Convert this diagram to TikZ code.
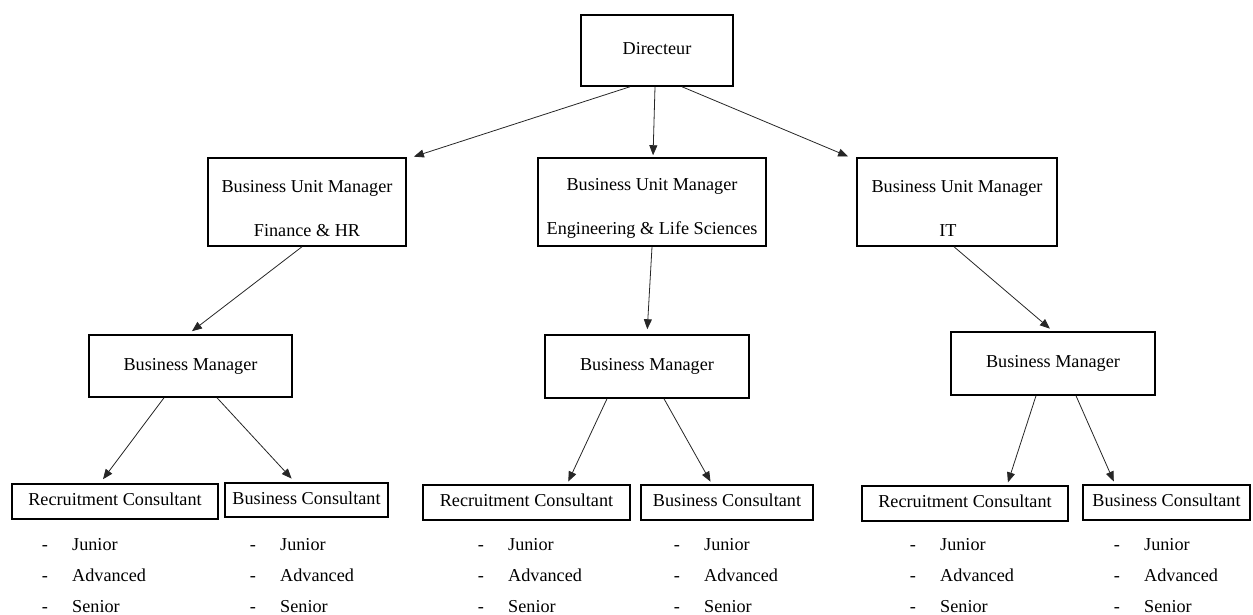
\documentclass[tikz,border=0pt]{standalone}
\usepackage{fontspec}
\setmainfont{Liberation Serif}
\usetikzlibrary{arrows.meta}
\tikzset{
    %Define standard arrow tip
    >={Triangle[length=10pt,width=8pt]},
    %Define style for boxes
    box/.style={
           rectangle,
           draw=black, line width=1.5pt,
           inner sep=0pt,
           font=\fontsize{18.2}{19}\selectfont,
           align=center},
    solo/.style={
           box,
           text height=12.5pt,
           text depth=4pt},
    % Define arrow style
    link/.style={
           ->,
           line width=0.8pt,
           draw=black!85,
           shorten >=2pt},
    % Define style for the grade lists
    hyph/.style={
           anchor=base,
           inner sep=0pt,
           font=\fontsize{18.2}{19}\selectfont},
    grade/.style={
           hyph,
           anchor=base west}
}
\newcommand{\unitmgr}[1]{\rule{0pt}{25pt}Business Unit Manager\\[25pt]#1}

\begin{document}
\begin{tikzpicture}[x=1pt,y=-1pt]
 \useasboundingbox (0,0) rectangle (1253,614);
 %nodes
    \node[solo, minimum width=152pt, minimum height=71pt] (dir) at (657,50.5) {Directeur};
    \node[box, minimum width=198pt, minimum height=88pt] (bumF) at (307,202) {\unitmgr{Finance \& HR}};
    \node[box, minimum width=228pt, minimum height=88pt] (bumE) at (652,202) {\unitmgr{Engineering \& Life Sciences}};
    \node[box, minimum width=200pt, minimum height=88pt] (bumI) at (957,202) {\unitmgr{IT\hspace*{18pt}}};
    \node[solo, minimum width=203pt, minimum height=62pt] (bmL) at (190.5,366) {Business Manager};
    \node[solo, minimum width=204pt, minimum height=63pt] (bmM) at (647,366.5) {Business Manager};
    \node[solo, minimum width=204pt, minimum height=63pt] (bmR) at (1053,363.5) {Business Manager};
    \node[solo, minimum width=206pt, minimum height=35pt] (rcL) at (115,501.5) {Recruitment Consultant};
    \node[solo, minimum width=163pt, minimum height=34pt] (bcL) at (306.5,500) {Business Consultant};
    \node[solo, minimum width=207pt, minimum height=35pt] (rcM) at (526.5,502.5) {Recruitment Consultant};
    \node[solo, minimum width=172pt, minimum height=35pt] (bcM) at (727,502.5) {Business Consultant};
    \node[solo, minimum width=206pt, minimum height=35pt] (rcR) at (965,503.5) {Recruitment Consultant};
    \node[solo, minimum width=167pt, minimum height=35pt] (bcR) at (1166.5,502.5) {Business Consultant};
 %grades
    \foreach \c/\x in {la/45, lb/253, ma/481, mb/677, ra/913, rb/1117}
      \foreach \g [count=\r] in {Junior, Advanced, Senior} {
        \node[hyph] (h\c\r) at (\x, 519+31*\r) {-};
        \node[grade] (g\c\r) at (\x+27, 519+31*\r) {\g};
      }
 %edges
    \draw[link] ([xshift=-27pt]dir.south) -- ([xshift=105pt]bumF.north);
    \draw[link] ([xshift=-2pt]dir.south) -- ([xshift=1pt]bumE.north);
    \draw[link] ([xshift=25pt]dir.south) -- ([xshift=-107pt]bumI.north);
    \draw[link, shorten >=5pt] ([xshift=-5pt]bumF.south) -- ([xshift=-2.5pt]bmL.north);
    \draw[link, shorten >=5pt] (bumE.south) -- (bmM.north);
    \draw[link, shorten >=4pt] ([xshift=-3pt]bumI.south) -- (bmR.north);
    \draw[link, shorten >=5pt] ([xshift=-26.5pt]bmL.south) -- ([xshift=-15pt]rcL.north);
    \draw[link, shorten >=5pt] ([xshift=26.5pt]bmL.south) -- ([xshift=-11.5pt]bcL.north);
    \draw[link, shorten >=3pt] ([xshift=-40pt]bmM.south) -- ([xshift=40.5pt]rcM.north);
    \draw[link, shorten >=3pt] ([xshift=17pt]bmM.south) -- ([xshift=-15pt]bcM.north);
    \draw[link, shorten >=3pt] ([xshift=-17pt]bmR.south) -- ([xshift=42pt]rcR.north);
    \draw[link, shorten >=3pt] ([xshift=23pt]bmR.south) -- ([xshift=-51.5pt]bcR.north);
  \end{tikzpicture}
\end{document}
